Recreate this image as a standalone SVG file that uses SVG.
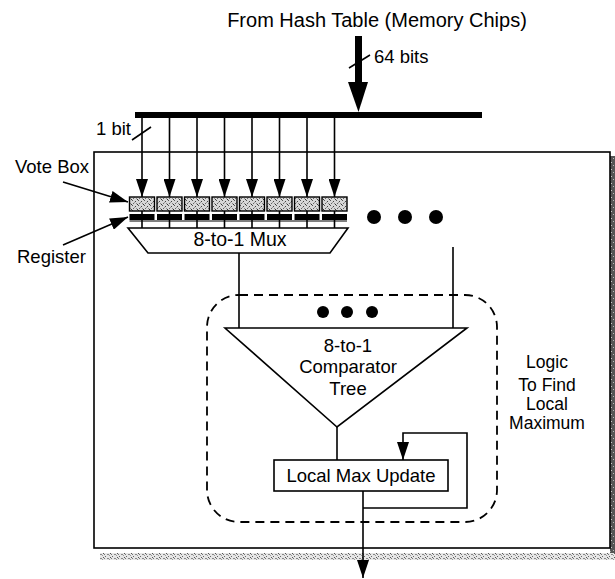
<svg xmlns="http://www.w3.org/2000/svg" width="615" height="579" viewBox="0 0 615 579">
  <style>
    text { font-family: "Liberation Sans", Arial, Helvetica, sans-serif; font-size: 18.5px; fill: #000; }
    .mid { text-anchor: middle; }
    .title { font-size: 20px; }
    .mux { font-size: 19.5px; }
    .side { font-size: 17.5px; }
    .ln { stroke: #000; stroke-width: 1.6; fill: none; }
    .box { stroke: #000; stroke-width: 1.6; fill: #fff; }
    .dash { stroke: #000; stroke-width: 1.8; fill: none; stroke-dasharray: 9 6; }
  </style>
  <defs>
    <!-- solid arrowhead, tip at the line end -->
    <marker id="arr" viewBox="0 0 18 12" refX="18" refY="6" markerWidth="18" markerHeight="12" markerUnits="userSpaceOnUse" orient="auto">
      <path d="M0,0 L18,6 L0,12 Z" fill="#000"/>
    </marker>
    <!-- speckled fill for the vote counters -->
    <pattern id="speck" width="6" height="5" patternUnits="userSpaceOnUse">
      <rect width="6" height="5" fill="#d8d8d8"/>
      <rect x="0" y="0" width="1" height="1" fill="#555"/>
      <rect x="3" y="1" width="1" height="1" fill="#444"/>
      <rect x="1" y="3" width="1" height="1" fill="#666"/>
      <rect x="4" y="3" width="1" height="1" fill="#888"/>
      <rect x="5" y="4" width="1" height="1" fill="#333"/>
      <rect x="2" y="2" width="1" height="1" fill="#999"/>
    </pattern>
    <!-- grainy drop shadow of the board -->
    <pattern id="grainDark" width="5" height="7" patternUnits="userSpaceOnUse">
      <rect width="5" height="7" fill="#555"/>
      <rect x="1" y="1" width="1" height="1" fill="#ccc"/>
      <rect x="3" y="4" width="1" height="1" fill="#bbb"/>
      <rect x="0" y="5" width="1" height="1" fill="#999"/>
    </pattern>
    <pattern id="grainLight" width="7" height="4" patternUnits="userSpaceOnUse">
      <rect width="7" height="4" fill="#e6e6e6"/>
      <rect x="0" y="0" width="1" height="1" fill="#666"/>
      <rect x="2" y="2" width="2" height="1" fill="#888"/>
      <rect x="5" y="1" width="1" height="1" fill="#555"/>
      <rect x="4" y="3" width="1" height="1" fill="#999"/>
      <rect x="6" y="2" width="1" height="1" fill="#777"/>
    </pattern>
  </defs>

  <!-- board outline with shadow -->
  <g id="board">
    <rect x="610" y="156" width="5" height="404" fill="url(#grainDark)"/>
    <rect x="100" y="553" width="515" height="7" fill="url(#grainLight)"/>
    <rect x="94" y="152" width="516" height="396" class="box"/>
  </g>

  <!-- title and input bus -->
  <g id="source">
    <text x="377" y="27" class="mid title">From Hash Table (Memory Chips)</text>
    <text x="374" y="63">64 bits</text>
  </g>
  <g id="bus">
    <rect x="135" y="112" width="347" height="6" fill="#000"/>
  </g>

  <!-- vote counters and their registers -->
  <g id="vote-boxes" stroke="#000" stroke-width="1.4" fill="url(#speck)">
    <rect x="129.5" y="197" width="25" height="14"/>
    <rect x="157" y="197" width="25" height="14"/>
    <rect x="184.5" y="197" width="25" height="14"/>
    <rect x="212" y="197" width="25" height="14"/>
    <rect x="239.5" y="197" width="25" height="14"/>
    <rect x="267" y="197" width="25" height="14"/>
    <rect x="294.5" y="197" width="25" height="14"/>
    <rect x="322" y="197" width="25" height="14"/>
  </g>
  <g id="registers" fill="#000">
    <rect x="129.5" y="214" width="25" height="6"/>
    <rect x="157" y="214" width="25" height="6"/>
    <rect x="184.5" y="214" width="25" height="6"/>
    <rect x="212" y="214" width="25" height="6"/>
    <rect x="239.5" y="214" width="25" height="6"/>
    <rect x="267" y="214" width="25" height="6"/>
    <rect x="294.5" y="214" width="25" height="6"/>
    <rect x="322" y="214" width="25" height="6"/>
  </g>

  <g id="mux">
    <path d="M128,228 L348,228 L330,253 L148,253 Z" class="box"/>
    <text x="240" y="246" class="mid mux">8-to-1 Mux</text>
  </g>

  <g id="more-banks" fill="#000">
    <circle cx="374" cy="217" r="7"/>
    <circle cx="405" cy="217" r="7"/>
    <circle cx="436" cy="217" r="7"/>
  </g>

  <g id="logic-region">
    <rect x="207" y="295" width="290" height="227" rx="32" ry="32" class="dash"/>
    <text x="547" y="368" class="mid side">Logic</text>
    <text x="547" y="391" class="mid side">To Find</text>
    <text x="547" y="410" class="mid side">Local</text>
    <text x="547" y="429" class="mid side">Maximum</text>
  </g>

  <g id="comparator">
    <path d="M225,328 L467,328 L337,427 Z" class="box"/>
    <circle cx="323" cy="312" r="6" fill="#000"/>
    <circle cx="347" cy="312" r="6" fill="#000"/>
    <circle cx="372" cy="312" r="6" fill="#000"/>
    <text x="348" y="352" class="mid">8-to-1</text>
    <text x="348" y="373" class="mid">Comparator</text>
    <text x="348" y="395" class="mid">Tree</text>
  </g>

  <g id="local-max">
    <rect x="274" y="460" width="174" height="31" class="box"/>
    <text x="361" y="482" class="mid">Local Max Update</text>
  </g>

  <g id="side-labels">
    <text x="96" y="135">1 bit</text>
    <text x="15" y="173">Vote Box</text>
    <text x="17" y="263">Register</text>
  </g>

  <g id="connectors">
    <!-- 64-bit input into the bus -->
    <rect x="355" y="36" width="7" height="48" fill="#000"/>
    <path d="M348,82 L368,82 L358.5,112 Z" fill="#000"/>
    <line x1="349" y1="68" x2="370" y2="55" class="ln"/>

    <!-- one bit to each vote counter -->
    <g class="ln" marker-end="url(#arr)">
      <line x1="142" y1="118" x2="142" y2="197"/>
      <line x1="169.5" y1="118" x2="169.5" y2="197"/>
      <line x1="197" y1="118" x2="197" y2="197"/>
      <line x1="224.5" y1="118" x2="224.5" y2="197"/>
      <line x1="252" y1="118" x2="252" y2="197"/>
      <line x1="279.5" y1="118" x2="279.5" y2="197"/>
      <line x1="307" y1="118" x2="307" y2="197"/>
      <line x1="334.5" y1="118" x2="334.5" y2="197"/>
    </g>
    <line x1="132" y1="140" x2="151" y2="127" class="ln"/>

    <!-- registers into the mux -->
    <g class="ln">
      <line x1="142" y1="211" x2="142" y2="228"/>
      <line x1="169.5" y1="211" x2="169.5" y2="228"/>
      <line x1="197" y1="211" x2="197" y2="228"/>
      <line x1="224.5" y1="211" x2="224.5" y2="228"/>
      <line x1="252" y1="211" x2="252" y2="228"/>
      <line x1="279.5" y1="211" x2="279.5" y2="228"/>
      <line x1="307" y1="211" x2="307" y2="228"/>
      <line x1="334.5" y1="211" x2="334.5" y2="228"/>
      <line x1="129.5" y1="221" x2="347" y2="221" stroke-width="1"/>
    </g>

    <!-- label pointers -->
    <line x1="63" y1="182" x2="128" y2="202" class="ln" stroke-width="2" marker-end="url(#arr)"/>
    <line x1="63" y1="245" x2="128" y2="217" class="ln" stroke-width="2" marker-end="url(#arr)"/>

    <!-- mux outputs into the comparator tree -->
    <line x1="239" y1="253" x2="239" y2="328" class="ln"/>
    <line x1="453" y1="247" x2="453" y2="328" class="ln"/>

    <!-- tree to update stage -->
    <line x1="337" y1="427" x2="337" y2="460" class="ln"/>

    <!-- feedback loop -->
    <path d="M363,508 L467,508 L467,433 L403,433 L403,460" class="ln" marker-end="url(#arr)"/>

    <!-- result out of the board -->
    <line x1="363" y1="491" x2="363" y2="578" class="ln" marker-end="url(#arr)"/>
  </g>
</svg>
